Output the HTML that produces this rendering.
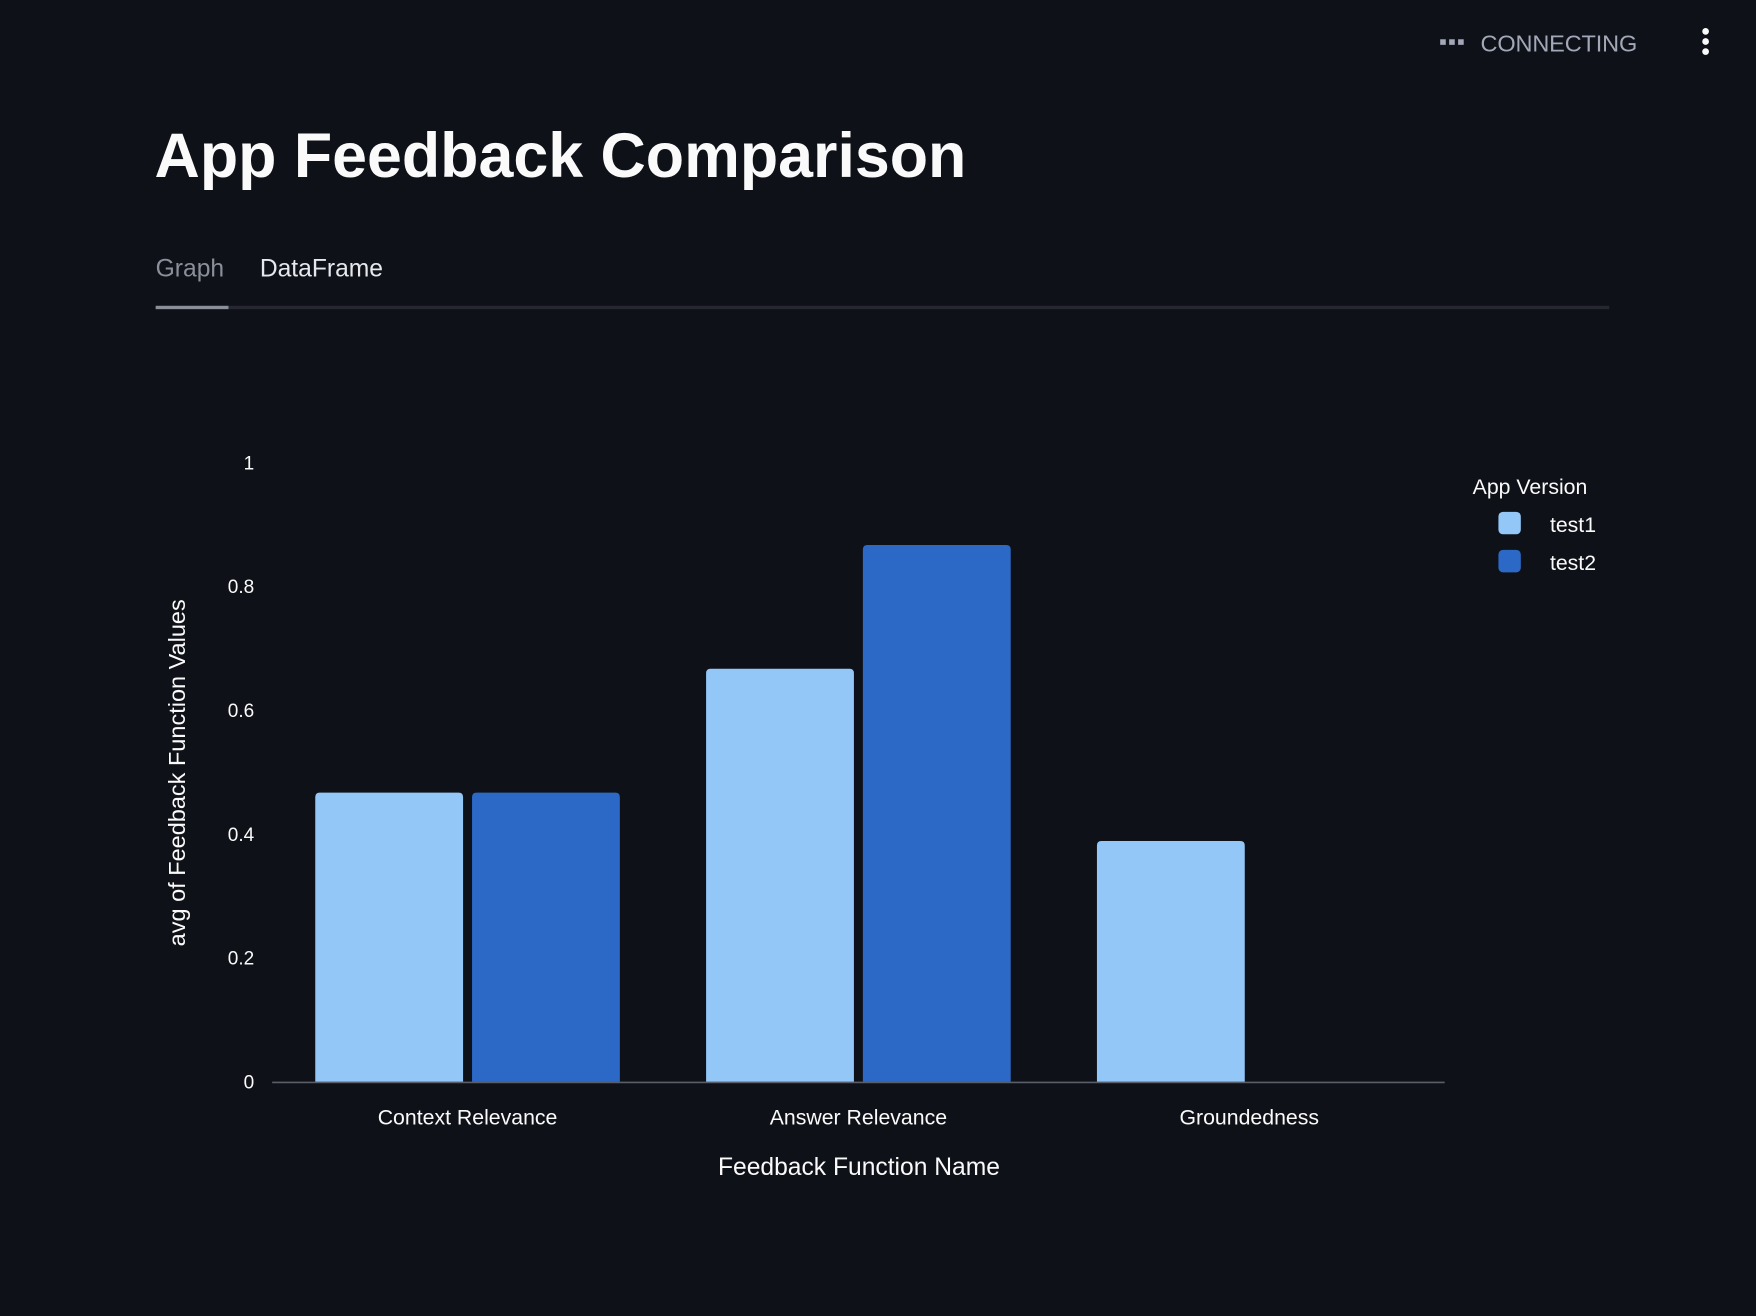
<!DOCTYPE html>
<html>
<head>
<meta charset="utf-8">
<style>
  html,body{margin:0;padding:0;background:#0e1117;overflow:hidden;}
  svg{display:block;}
  text{font-family:"Liberation Sans",sans-serif;}
</style>
</head>
<body>
<svg id="root" width="1756" height="1316" viewBox="0 0 1568 1175">
  <rect x="0" y="0" width="1568" height="1175" fill="#0e1117"/>
  <g>
    <rect x="1286" y="35" width="5" height="5" fill="#a3a8b8"/>
    <rect x="1294" y="35" width="5" height="5" fill="#a3a8b8"/>
    <rect x="1302" y="35" width="5" height="5" fill="#a3a8b8"/>
    <text x="1322" y="46" font-size="21" fill="#a3a8b8" textLength="140">CONNECTING</text>
  </g>
  <g>
    <circle cx="1523" cy="28" r="3" fill="#fafafa"/>
    <circle cx="1523" cy="37" r="3" fill="#fafafa"/>
    <circle cx="1523" cy="46" r="3" fill="#fafafa"/>
  </g>
  <text x="138" y="158" font-size="56" font-weight="bold" fill="#fafafa">App Feedback Comparison</text>
  <text x="139" y="247" font-size="22" fill="#8b8f99">Graph</text>
  <text x="232" y="247" font-size="22" fill="#e6e8ee">DataFrame</text>
  <rect x="139" y="273" width="1298" height="3" fill="#262730"/>
  <rect x="139" y="273" width="65" height="3" fill="#8b8f99"/>
  <g id="chart"></g>
</svg>
<script>
const categories = ["Context Relevance", "Answer Relevance", "Groundedness"];
const series = ["test1", "test2"];
const test1Values = [0.467, 0.667, 0.389];
const test2Values = [0.467, 0.867, null];
const yTicks = [0, 0.2, 0.4, 0.6, 0.8, 1];
const yTickLabels = ["0", "0.2", "0.4", "0.6", "0.8", "1"];
const colors = ["#93c7f7", "#2c68c6"];

const NS = "http://www.w3.org/2000/svg";
const g = document.getElementById("chart");
const x0 = 243, x1 = 1290, y0 = 966, y1 = 413;
const yScale = v => y0 - (v / 1) * (y0 - y1);
const band = (x1 - x0) / categories.length;
const bandX = i => x0 + band * i;
const barW = 132, gap = 8;

function mk(tag, attrs, text) {
  const el = document.createElementNS(NS, tag);
  for (const k in attrs) el.setAttribute(k, attrs[k]);
  if (text !== undefined) el.textContent = text;
  g.appendChild(el);
  return el;
}

yTicks.forEach((t, i) => {
  const el = mk("text", {x: 227, y: yScale(t) + 6, "font-size": 17, fill: "#fafafa", "text-anchor": "end"}, yTickLabels[i]);
  
  
});

const allVals = [test1Values, test2Values];
categories.forEach((c, i) => {
  const center = bandX(i) + band / 2;
  allVals.forEach((vals, s) => {
    const v = vals[i];
    if (v === null || v === undefined) return;
    const bx = center - barW - gap / 2 + s * (barW + gap);
    const top = yScale(v);
    const r = 4;
    const d = `M${bx},${y0} L${bx},${top + r} Q${bx},${top} ${bx + r},${top} L${bx + barW - r},${top} Q${bx + barW},${top} ${bx + barW},${top + r} L${bx + barW},${y0} Z`;
    const el = mk("path", {d: d, fill: colors[s]});
    
    
  });
  const lbl = mk("text", {x: center, y: 1004, "font-size": 19, fill: "#fafafa", "text-anchor": "middle"}, c);
  
  
});

const axis = mk("line", {x1: x0, x2: x1, y1: y0 + 0.5, y2: y0 + 0.5, stroke: "#5a5e68", "stroke-width": 1.5});



const xt = mk("text", {x: 767, y: 1049, "font-size": 22, fill: "#fafafa", "text-anchor": "middle"}, "Feedback Function Name");



const yt = mk("text", {x: 0, y: 0, "font-size": 21, fill: "#fafafa", "text-anchor": "middle", transform: "translate(165,690) rotate(-90)"}, "avg of Feedback Function Values");



const lt = mk("text", {x: 1315, y: 441, "font-size": 19, fill: "#fafafa"}, "App Version");


series.forEach((s, i) => {
  const y = 457 + i * 34;
  const sw = mk("rect", {x: 1338, y: y, width: 20, height: 20, rx: 4, fill: colors[i]});
  
  
  const t = mk("text", {x: 1384, y: y + 18, "font-size": 19, fill: "#fafafa"}, s);
  
  
});
</script>
</body>
</html>
